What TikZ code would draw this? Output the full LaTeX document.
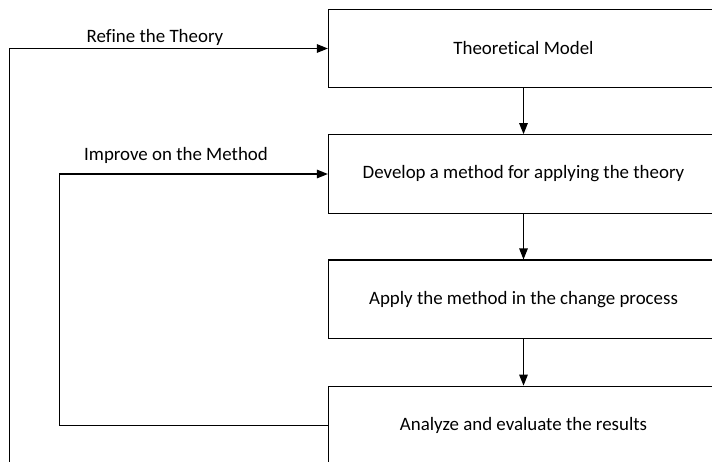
\documentclass[tikz,border=0pt]{standalone}
\usepackage{fontspec}
\setmainfont{Carlito}[Ligatures={NoCommon}]
\usetikzlibrary{arrows.meta}
\begin{document}
\begin{tikzpicture}[x=1pt,y=-1pt,
  box/.style={draw=black, line width=1.2pt, rectangle, minimum width=390pt, minimum height=78.5pt, inner sep=0pt, font=\fontsize{18.9}{22}\selectfont},
  conn/.style={draw=black, line width=1.2pt},
  arr/.style={conn, -{Triangle[length=11pt,width=8.5pt]}},
  lbl/.style={font=\fontsize{18.9}{22}\selectfont, inner sep=0pt}]
\clip (0,0) rectangle (712,461);
\useasboundingbox (0,0) rectangle (712,461);
\node[box] (b1) at (523.5,48.5) {Theoretical Model};
\node[box] (b2) at (523.5,174) {Develop a method for applying the theory};
\node[box] (b3) at (523.5,299.3) {Apply the method in the change process};
\node[box] (b4) at (523.5,425.5) {Analyze and evaluate the results};
\coordinate (loopA) at (9.5,480);
\coordinate (loopB) at (59.3,0);
\draw[arr] (b1.south) -- (b2.north);
\draw[arr] (b2.south) -- (b3.north);
\draw[arr] (b3.south) -- (b4.north);
\draw[arr] (b4.west) -| (loopB |- b4.west) |- (b2.west);
\draw[arr] (loopA) |- (b1.west);
\node[lbl] (l1) at (155,37.5) {Refine the Theory};
\node[lbl] (l2) at (176,155) {Improve on the Method};
\end{tikzpicture}
\end{document}
